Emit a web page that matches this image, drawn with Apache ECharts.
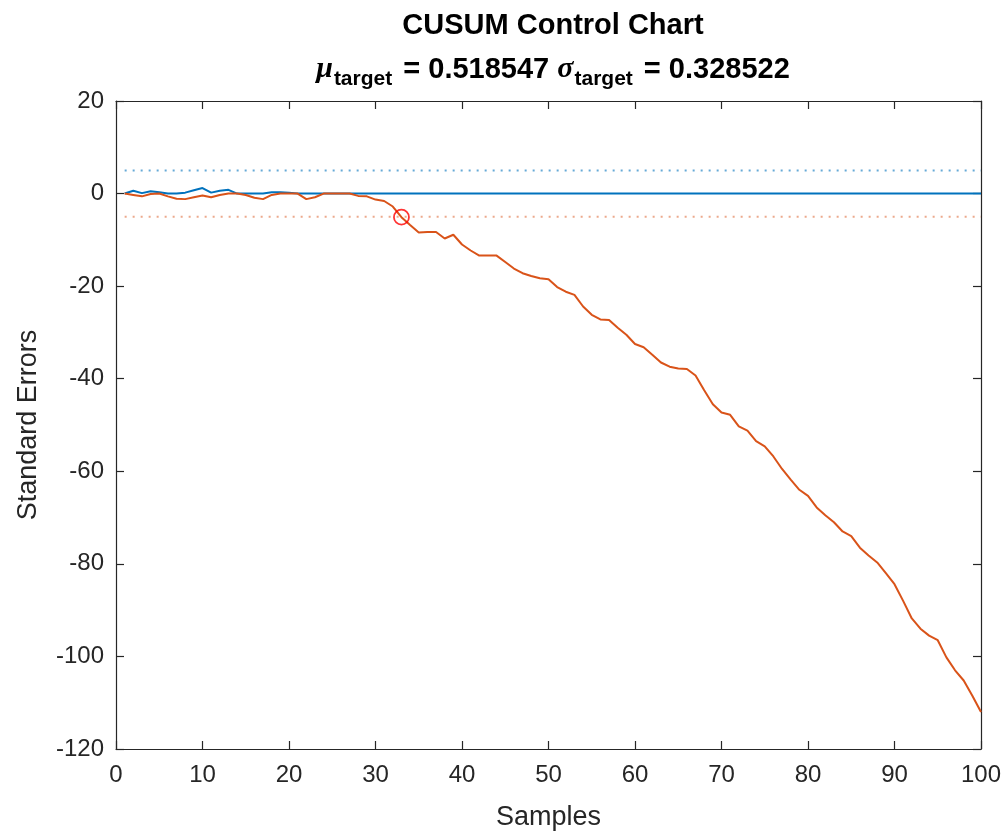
<!DOCTYPE html>
<html>
<head>
<meta charset="utf-8">
<script src="https://cdn.jsdelivr.net/npm/echarts@6/dist/echarts.min.js"></script>
<style>
  html, body { margin: 0; padding: 0; background: #ffffff; }
  #chart { width: 1008px; height: 833px; }
</style>
</head>
<body>
<div id="chart"></div>
<script>
// ---- Data ----
const samples = Array.from({length: 100}, (_, i) => i + 1); // sample indices 1..100
const upperCusum = [
  0, 0.6, 0.1, 0.5, 0.3, 0, 0, 0.2, 0.7, 1.2,
  0.2, 0.6, 0.8, 0, 0, 0, 0, 0.3, 0.3, 0.2,
  0, 0, 0, 0, 0, 0, 0, 0, 0, 0,
  0, 0, 0, 0, 0, 0, 0, 0, 0, 0,
  0, 0, 0, 0, 0, 0, 0, 0, 0, 0,
  0, 0, 0, 0, 0, 0, 0, 0, 0, 0,
  0, 0, 0, 0, 0, 0, 0, 0, 0, 0,
  0, 0, 0, 0, 0, 0, 0, 0, 0, 0,
  0, 0, 0, 0, 0, 0, 0, 0, 0, 0,
  0, 0, 0, 0, 0, 0, 0, 0, 0, 0
];
const lowerCusum = [
  0, -0.3, -0.6, -0.1, 0, -0.6, -1.1, -1.2, -0.8, -0.4,
  -0.8, -0.3, 0, 0, -0.3, -0.9, -1.2, -0.3, 0, 0,
  0, -1.2, -0.8, 0, 0, 0, 0, -0.5, -0.6, -1.3,
  -1.6, -2.8, -5.1, -6.8, -8.4, -8.3, -8.3, -9.7, -8.9, -11.0,
  -12.3, -13.4, -13.4, -13.4, -14.8, -16.2, -17.2, -17.8, -18.3, -18.5,
  -20.2, -21.2, -21.9, -24.4, -26.2, -27.2, -27.3, -29.0, -30.5, -32.5,
  -33.2, -34.8, -36.5, -37.4, -37.8, -37.9, -39.3, -42.5, -45.5, -47.3,
  -47.8, -50.3, -51.2, -53.5, -54.6, -56.8, -59.5, -61.8, -64.0, -65.3,
  -67.8, -69.5, -71.0, -73.0, -74.0, -76.5, -78.2, -79.7, -82.0, -84.4,
  -88.0, -91.8, -94.0, -95.5, -96.5, -100.2, -103.0, -105.2, -108.5, -112.0
];
const upperLimit = 5;
const lowerLimit = -5;
const outOfControlSamples = [33];
const xTicks = [0, 10, 20, 30, 40, 50, 60, 70, 80, 90, 100];
const yTicks = [-120, -100, -80, -60, -40, -20, 0, 20];
const titleText = 'CUSUM Control Chart';
const muTarget = '0.518547';
const sigmaTarget = '0.328522';

// ---- Build series data ----
const upperData = samples.map((s, i) => [s, upperCusum[i]]);
const lowerData = samples.map((s, i) => [s, lowerCusum[i]]);
const first = samples[0], last = samples[samples.length - 1];
const uclData = [[first, upperLimit], [last, upperLimit]];
const lclData = [[first, lowerLimit], [last, lowerLimit]];
const oocData = outOfControlSamples.map(s => [s, lowerCusum[s - 1]]);

const FONT = 'Liberation Sans, Arial, Helvetica, sans-serif';
const AX = '#262626';

const chart = echarts.init(document.getElementById('chart'), null, {renderer: 'canvas'});
function axisCommon() {
  return {
    axisLine: {show: true, onZero: false, lineStyle: {color: AX, width: 1.2}},
    axisTick: {show: true, inside: true, length: 8, lineStyle: {color: AX, width: 1.2}},
    splitLine: {show: false}
  };
}
chart.setOption({
  animation: false,
  backgroundColor: '#ffffff',
  title: [
    {
      text: titleText,
      left: 548, top: 6, textAlign: 'center',
      textStyle: {fontFamily: FONT, fontSize: 29, fontWeight: 'bold', color: '#000'}
    },
    {
      text: '{g|μ}{s|target}{n| = ' + muTarget + ' }{g|σ}{s|target}{n| = ' + sigmaTarget + '}',
      left: 548, top: 44, textAlign: 'center',
      textStyle: {
        rich: {
          g: {fontFamily: 'Liberation Serif, DejaVu Serif, serif', fontStyle: 'italic', fontSize: 30, color: '#000', padding: [0, 1, 0, 0]},
          s: {fontFamily: FONT, fontSize: 21, fontWeight: 'bold', color: '#000', padding: [20, 3, 0, 0]},
          n: {fontFamily: FONT, fontSize: 29, fontWeight: 'bold', color: '#000'}
        }
      }
    }
  ],
  grid: {left: 116, right: 27, top: 101, bottom: 84, containLabel: false, outerBoundsMode: 'none'},
  xAxis: [
    Object.assign({
      type: 'value', min: xTicks[0], max: xTicks[xTicks.length - 1], interval: 10,
      position: 'bottom',
      name: 'Samples', nameLocation: 'middle', nameGap: 55,
      nameTextStyle: {fontFamily: FONT, fontSize: 27, color: AX},
      axisLabel: {fontFamily: FONT, fontSize: 24, color: AX, margin: 14}
    }, axisCommon()),
    Object.assign({
      type: 'value', min: xTicks[0], max: xTicks[xTicks.length - 1], interval: 10,
      position: 'top', axisLabel: {show: false}
    }, axisCommon())
  ],
  yAxis: [
    Object.assign({
      type: 'value', min: yTicks[0], max: yTicks[yTicks.length - 1], interval: 20,
      position: 'left',
      name: 'Standard Errors', nameLocation: 'middle', nameGap: 74, nameRotate: 90,
      nameTextStyle: {fontFamily: FONT, fontSize: 27, color: AX},
      axisLabel: {fontFamily: FONT, fontSize: 24, color: AX, margin: 12}
    }, axisCommon()),
    Object.assign({
      type: 'value', min: yTicks[0], max: yTicks[yTicks.length - 1], interval: 20,
      position: 'right', axisLabel: {show: false}
    }, axisCommon())
  ],
  series: [
    {
      name: 'Upper limit', type: 'line', data: uclData, showSymbol: false, silent: true,
      lineStyle: {color: '#0072BD', opacity: 0.6, width: 2, type: [2, 6]}, z: 1
    },
    {
      name: 'Lower limit', type: 'line', data: lclData, showSymbol: false, silent: true,
      lineStyle: {color: '#D95319', opacity: 0.5, width: 2, type: [2, 6]}, z: 1
    },
    {
      name: 'Upper CUSUM', type: 'line', data: upperData, showSymbol: false,
      lineStyle: {color: '#0072BD', width: 2}, z: 2
    },
    {
      name: 'Lower CUSUM', type: 'line', data: lowerData, showSymbol: false,
      lineStyle: {color: '#D95319', width: 2}, z: 3
    },
    {
      name: 'Out of control', type: 'scatter', data: oocData, symbol: 'circle', symbolSize: 15,
      itemStyle: {color: 'rgba(0,0,0,0)', borderColor: '#ff0000', borderWidth: 1.8}, z: 4
    }
  ]
});
</script>
</body>
</html>
